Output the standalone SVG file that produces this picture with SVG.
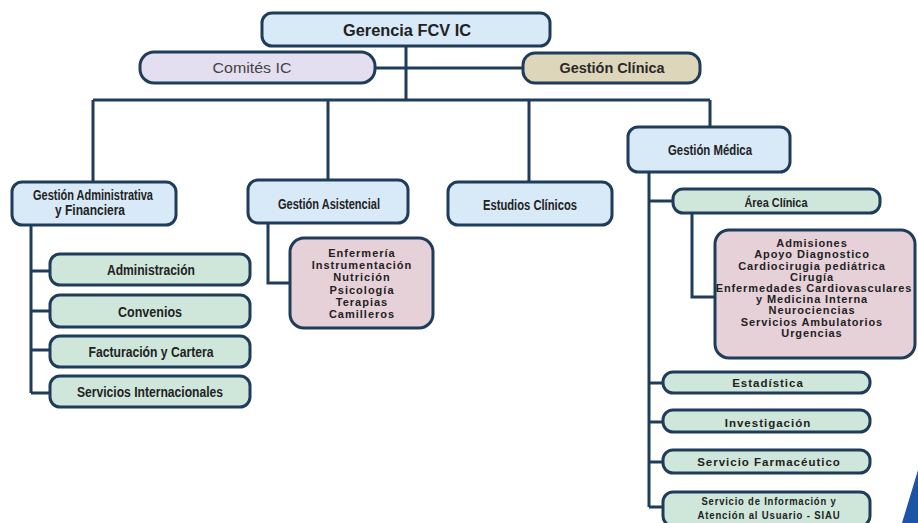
<svg xmlns="http://www.w3.org/2000/svg" width="918" height="523" viewBox="0 0 918 523">
<style>
.box{stroke:#1f3c5a;stroke-width:3}
.blue{fill:#d8e9f8}
.green{fill:#cfe6da}
.pink{fill:#e6d1d9}
.lilac{fill:#e3dff1}
.tan{fill:#ddd6bb}
.conn{stroke:#1f3c5a;stroke-width:3;fill:none}
text{font-family:"Liberation Sans",Arial,sans-serif;text-anchor:middle;fill:#222}
.t{font-size:14px;font-weight:bold}
.g{font-size:14px;font-weight:bold}
.gs{font-size:11.5px;font-weight:bold;letter-spacing:1px}
.p{font-size:11px;font-weight:bold;letter-spacing:1px}
.pr{font-size:11px;font-weight:bold;letter-spacing:0.9px}
</style>
<rect width="918" height="523" fill="#ffffff"/>
<g id="connectors">
<path class="conn" d="M406 46V100M375 68H523M93 100H710M93 100V182M328 100V180M529 100V182M710 100V127"/>
<path class="conn" d="M31 225V393M31 271H50M31 311H50M31 350H50M31 393H50"/>
<path class="conn" d="M268 223V283H290"/>
<path class="conn" d="M649 172V507M649 201H673M649 383H663M649 422H663M649 462H663M649 507H663"/>
<path class="conn" d="M692 213V297H715"/>
</g>
<g id="gerencia"><rect class="box blue" x="262" y="13" width="288" height="33" rx="10"/><text x="407" y="35.5" style="font-size:16px;font-weight:bold" textLength="128" lengthAdjust="spacingAndGlyphs">Gerencia FCV IC</text></g>
<g id="comites"><rect class="box lilac" x="140" y="52" width="235" height="31" rx="14"/><text x="252" y="73" style="font-size:15px;fill:#444" textLength="79" lengthAdjust="spacingAndGlyphs">Comités IC</text></g>
<g id="gestion-clinica"><rect class="box tan" x="523" y="53" width="177" height="30" rx="12"/><text x="612" y="73" style="font-size:14px;font-weight:bold;fill:#2a2a2a" textLength="105" lengthAdjust="spacingAndGlyphs">Gestión Clínica</text></g>
<g id="gestion-admin"><rect class="box blue" x="12" y="182" width="164" height="43" rx="10"/><text class="t" x="93" y="200" textLength="120" lengthAdjust="spacingAndGlyphs">Gestión Administrativa</text><text class="t" x="90" y="215" textLength="70" lengthAdjust="spacingAndGlyphs">y Financiera</text></g>
<g id="gestion-asistencial"><rect class="box blue" x="248" y="180" width="160" height="43" rx="10"/><text class="t" x="329" y="209" textLength="102" lengthAdjust="spacingAndGlyphs">Gestión Asistencial</text></g>
<g id="estudios-clinicos"><rect class="box blue" x="448" y="182" width="164" height="43" rx="10"/><text class="t" x="530" y="210" textLength="94" lengthAdjust="spacingAndGlyphs">Estudios Clínicos</text></g>
<g id="gestion-medica"><rect class="box blue" x="628" y="127" width="162" height="45" rx="10"/><text class="t" x="710" y="155" textLength="84" lengthAdjust="spacingAndGlyphs">Gestión Médica</text></g>
<g id="administracion"><rect class="box green" x="50" y="254" width="200" height="31" rx="10"/><text class="g" x="151" y="275" textLength="88" lengthAdjust="spacingAndGlyphs">Administración</text></g>
<g id="convenios"><rect class="box green" x="50" y="295" width="200" height="32" rx="10"/><text class="g" x="150" y="316.5" textLength="64" lengthAdjust="spacingAndGlyphs">Convenios</text></g>
<g id="facturacion"><rect class="box green" x="50" y="336" width="200" height="31" rx="10"/><text class="g" x="151" y="356.5" textLength="125" lengthAdjust="spacingAndGlyphs">Facturación y Cartera</text></g>
<g id="servicios-internacionales"><rect class="box green" x="50" y="376" width="200" height="31" rx="10"/><text class="g" x="150" y="397" textLength="146" lengthAdjust="spacingAndGlyphs">Servicios Internacionales</text></g>
<g id="asistencial-areas"><rect class="box pink" x="290" y="238" width="143" height="90" rx="14"/>
<text class="p" x="362" y="257">Enfermería</text>
<text class="p" x="362" y="269">Instrumentación</text>
<text class="p" x="362" y="281">Nutrición</text>
<text class="p" x="362" y="294">Psicología</text>
<text class="p" x="362" y="306">Terapias</text>
<text class="p" x="362" y="318">Camilleros</text></g>
<g id="area-clinica"><rect class="box green" x="673" y="189" width="207" height="24" rx="10"/><text class="g" style="font-size:13px" x="776" y="206.5" textLength="63" lengthAdjust="spacingAndGlyphs">Área Clínica</text></g>
<g id="area-clinica-servicios"><rect class="box pink" x="715" y="230" width="200" height="128" rx="14"/>
<text class="pr" x="812" y="247">Admisiones</text>
<text class="pr" x="812" y="258">Apoyo Diagnostico</text>
<text class="pr" x="812" y="270">Cardiocirugia pediátrica</text>
<text class="pr" x="812" y="281">Cirugía</text>
<text class="pr" x="814" y="292">Enfermedades Cardiovasculares</text>
<text class="pr" x="812" y="303">y Medicina Interna</text>
<text class="pr" x="812" y="314">Neurociencias</text>
<text class="pr" x="812" y="326">Servicios Ambulatorios</text>
<text class="pr" x="812" y="337">Urgencias</text></g>
<g id="estadistica"><rect class="box green" x="663" y="372" width="207" height="21" rx="10"/><text class="gs" x="768" y="387">Estadística</text></g>
<g id="investigacion"><rect class="box green" x="663" y="410" width="207" height="22" rx="10"/><text class="gs" x="768" y="427">Investigación</text></g>
<g id="farmaceutico"><rect class="box green" x="663" y="450" width="207" height="23" rx="10"/><text class="gs" x="769" y="466">Servicio Farmacéutico</text></g>
<g id="siau"><rect class="box green" x="663" y="492" width="207" height="34" rx="10"/><text class="gs" x="769" y="505" textLength="135" lengthAdjust="spacingAndGlyphs">Servicio de Información y</text><text class="gs" x="769" y="519" textLength="143" lengthAdjust="spacingAndGlyphs">Atención al Usuario - SIAU</text></g>
<path d="M918 470C912 490 906 510 902 523H918Z" fill="#1c55a8"/>
</svg>
